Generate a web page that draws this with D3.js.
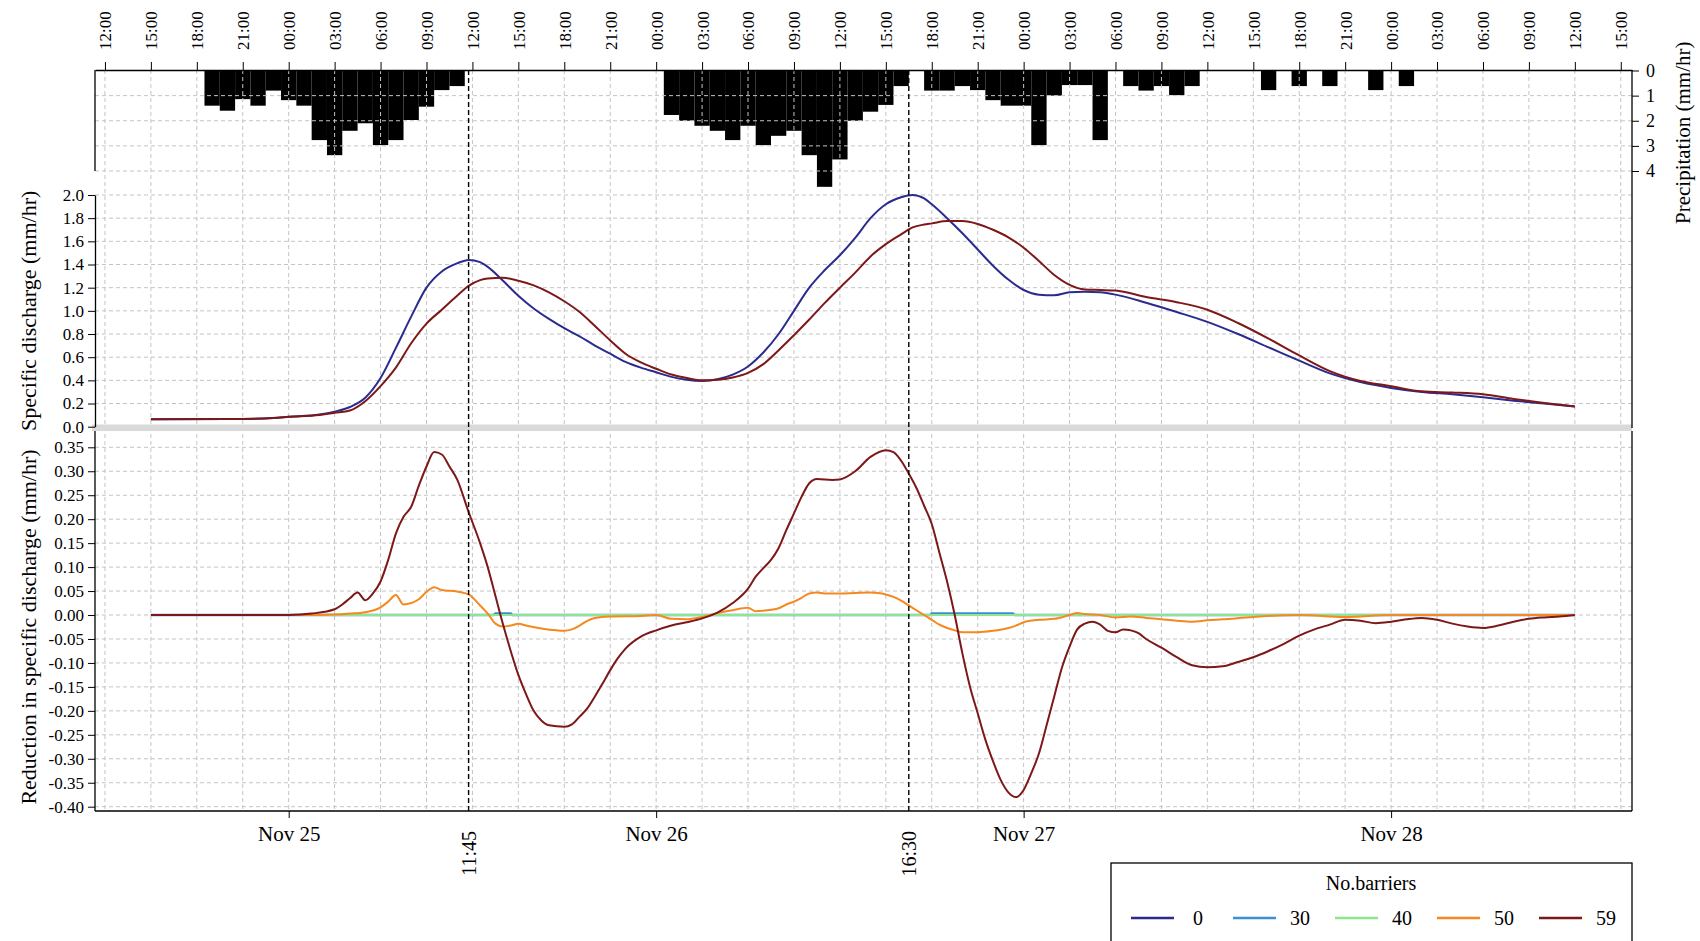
<!DOCTYPE html>
<html><head><meta charset="utf-8">
<script src="https://cdn.jsdelivr.net/npm/d3@7"></script>
<style>
body{margin:0;background:#fff;}
svg text{font-family:"Liberation Serif","Times New Roman",serif;fill:#000;}
</style></head><body>
<svg id="chart" width="1700" height="941"></svg>
<script>
// ---------------- DATA (times are "day hh:mm" in November) ----------------
const precipTimes = ["24 19:00","24 20:00","24 21:00","24 22:00","24 23:00",
  "25 00:00","25 01:00","25 02:00","25 03:00","25 04:00","25 05:00","25 06:00","25 07:00","25 08:00","25 09:00","25 10:00","25 11:00",
  "26 01:00","26 02:00","26 03:00","26 04:00","26 05:00","26 06:00","26 07:00","26 08:00","26 09:00","26 10:00","26 11:00","26 12:00","26 13:00","26 14:00","26 15:00","26 16:00",
  "26 18:00","26 19:00","26 20:00","26 21:00","26 22:00","26 23:00",
  "27 00:00","27 01:00","27 02:00","27 03:00","27 04:00","27 05:00","27 07:00","27 08:00","27 09:00","27 10:00","27 11:00",
  "27 16:00","27 18:00","27 20:00","27 23:00","28 01:00"];
const precipValues = [1.40,1.60,1.14,1.40,0.80,
  1.18,1.40,2.77,3.37,2.40,2.10,2.97,2.77,1.97,1.44,0.78,0.62,
  1.77,2.00,2.20,2.40,2.77,2.20,2.97,2.60,2.40,3.37,4.63,3.54,2.00,1.64,1.37,0.62,
  0.80,0.80,0.62,0.78,1.18,1.40,
  1.40,2.97,1.00,0.58,0.58,2.77,0.62,0.80,0.62,0.98,0.62,
  0.78,0.62,0.62,0.78,0.62];

const dischargeTimes = ["24 15:00","24 20:00","24 23:00","25 00:00","25 02:00","25 03:00","25 04:00","25 05:00","25 06:00","25 07:00",
  "25 08:00","25 09:00","25 10:00","25 11:00","25 11:45","25 12:30","25 13:00","25 14:00","25 15:00","25 16:00",
  "25 17:00","25 18:00","25 19:00","25 20:00","25 21:00","25 22:00","25 23:00","26 00:00","26 01:00","26 02:00",
  "26 03:00","26 04:00","26 05:00","26 06:00","26 07:00","26 08:00","26 09:00","26 10:00","26 11:00","26 12:00",
  "26 13:00","26 14:00","26 15:00","26 16:00","26 16:45","26 17:30","26 18:00","26 19:00","26 20:00","26 21:00",
  "26 22:00","26 23:00","27 00:00","27 01:00","27 02:00","27 03:00","27 04:00","27 05:00","27 06:00","27 08:00",
  "27 10:00","27 12:00","27 14:00","27 16:00","27 18:00","27 20:00","27 22:00","28 00:00","28 02:00","28 04:00",
  "28 06:00","28 08:00","28 10:00","28 12:00"];
const discharge0 = [0.065,0.066,0.075,0.085,0.105,0.13,0.17,0.25,0.42,0.68,
  0.95,1.20,1.34,1.41,1.44,1.42,1.38,1.26,1.13,1.02,
  0.93,0.85,0.78,0.70,0.63,0.56,0.51,0.47,0.43,0.405,
  0.395,0.41,0.45,0.52,0.64,0.80,1.00,1.20,1.35,1.48,
  1.63,1.80,1.92,1.98,2.00,1.97,1.92,1.80,1.67,1.53,
  1.39,1.27,1.18,1.14,1.135,1.16,1.165,1.16,1.14,1.07,
  0.99,0.905,0.80,0.685,0.57,0.46,0.385,0.335,0.30,0.28,
  0.255,0.225,0.20,0.175];
const discharge59 = [0.065,0.066,0.075,0.085,0.102,0.12,0.14,0.22,0.35,0.51,
  0.72,0.89,1.01,1.13,1.215,1.265,1.28,1.285,1.26,1.22,
  1.16,1.083,0.99,0.87,0.745,0.63,0.555,0.50,0.45,0.42,
  0.40,0.405,0.425,0.465,0.54,0.66,0.79,0.925,1.067,1.20,
  1.33,1.47,1.576,1.66,1.72,1.745,1.755,1.775,1.775,1.75,
  1.70,1.635,1.545,1.43,1.31,1.225,1.185,1.18,1.175,1.12,
  1.075,1.01,0.895,0.76,0.615,0.48,0.395,0.35,0.305,0.295,
  0.28,0.24,0.205,0.175];

const reduction59Times = ["24 15:00","25 00:00","25 01:30","25 03:00","25 03:30","25 04:00","25 04:30","25 05:00","25 05:30","25 06:00",
  "25 06:30","25 07:00","25 07:30","25 08:00","25 08:30","25 09:00","25 09:30","25 10:00","25 10:30","25 11:00",
  "25 11:45","25 12:30","25 13:00","25 13:30","25 14:00","25 14:30","25 15:00","25 15:30","25 16:00","25 16:30",
  "25 17:00","25 18:00","25 18:30","25 19:00","25 19:30","25 20:00","25 20:30","25 21:00","25 21:30","25 22:00",
  "25 23:00","26 00:00","26 01:00","26 02:00","26 03:00","26 04:00","26 05:00","26 06:00","26 06:30","26 07:00",
  "26 07:30","26 08:00","26 08:30","26 09:00","26 09:30","26 10:00","26 10:30","26 11:30","26 12:00","26 13:00",
  "26 14:00","26 15:00","26 15:30","26 16:00","26 16:30","26 17:00","26 17:30","26 18:00","26 18:30","26 19:00",
  "26 19:30","26 20:00","26 20:30","26 21:00","26 21:30","26 22:00","26 22:30","26 23:00","26 23:30","27 00:00",
  "27 00:30","27 01:00","27 01:30","27 02:00","27 02:30","27 03:00","27 03:30","27 04:00","27 04:30","27 05:00",
  "27 05:30","27 06:00","27 06:30","27 07:00","27 07:30","27 08:00","27 09:00","27 10:00","27 11:00","27 12:00",
  "27 13:00","27 14:00","27 15:00","27 16:00","27 17:00","27 18:00","27 19:00","27 20:00","27 21:00","27 22:00",
  "27 23:00","28 00:00","28 01:00","28 02:00","28 03:00","28 04:00","28 05:00","28 06:00","28 07:00","28 08:00",
  "28 09:00","28 10:00","28 11:00","28 12:00"];
const reduction59 = [0,0,0.003,0.012,0.022,0.035,0.047,0.031,0.045,0.070,
  0.115,0.170,0.205,0.226,0.270,0.310,0.340,0.335,0.310,0.283,
  0.215,0.150,0.100,0.040,-0.020,-0.075,-0.125,-0.165,-0.200,-0.220,
  -0.230,-0.233,-0.228,-0.212,-0.195,-0.170,-0.143,-0.115,-0.090,-0.070,
  -0.045,-0.032,-0.022,-0.015,-0.007,0.005,0.025,0.055,0.080,0.098,
  0.115,0.140,0.177,0.212,0.247,0.275,0.284,0.282,0.283,0.300,
  0.330,0.344,0.340,0.322,0.295,0.265,0.228,0.190,0.130,0.070,
  0.000,-0.080,-0.150,-0.205,-0.260,-0.305,-0.344,-0.370,-0.380,-0.365,
  -0.330,-0.289,-0.230,-0.170,-0.110,-0.066,-0.030,-0.018,-0.014,-0.020,
  -0.033,-0.036,-0.030,-0.032,-0.038,-0.050,-0.068,-0.088,-0.105,-0.109,
  -0.107,-0.098,-0.088,-0.075,-0.060,-0.043,-0.030,-0.020,-0.010,-0.012,
  -0.017,-0.014,-0.009,-0.006,-0.010,-0.018,-0.024,-0.027,-0.022,-0.014,
  -0.008,-0.005,-0.003,0.000];

const reduction50Times = ["24 15:00","25 02:00","25 04:00","25 05:00","25 06:00","25 06:30","25 07:00","25 07:30","25 08:00","25 08:30",
  "25 09:00","25 09:30","25 10:00","25 11:00","25 11:45","25 12:30","25 13:00","25 13:30","25 14:00","25 14:30",
  "25 15:00","25 15:30","25 16:30","25 17:30","25 18:00","25 18:30","25 19:00","25 19:30","25 20:00","25 21:00",
  "25 23:00","26 00:00","26 01:00","26 02:00","26 03:00","26 04:00","26 05:00","26 06:00","26 06:30","26 07:00",
  "26 08:00","26 08:30","26 09:00","26 09:30","26 10:00","26 10:30","26 11:00","26 12:00","26 13:00","26 14:00",
  "26 14:30","26 15:00","26 15:30","26 16:00","26 16:30","26 17:00","26 17:30","26 18:00","26 18:30","26 19:00",
  "26 19:30","26 20:00","26 21:00","26 22:00","26 23:00","26 23:30","27 00:00","27 01:00","27 02:00","27 03:00",
  "27 03:30","27 04:00","27 05:00","27 06:00","27 07:00","27 08:00","27 09:00","27 10:00","27 11:00","27 12:00",
  "27 13:00","27 15:00","27 18:00","27 21:00","28 00:00","28 12:00"];
const reduction50 = [0,0,0.003,0.006,0.016,0.028,0.042,0.022,0.025,0.033,
  0.048,0.058,0.052,0.049,0.043,0.020,0.003,-0.018,-0.024,-0.022,
  -0.018,-0.022,-0.028,-0.032,-0.033,-0.030,-0.022,-0.012,-0.006,-0.003,
  -0.002,0.000,-0.008,-0.009,-0.004,0.004,0.010,0.015,0.008,0.009,
  0.014,0.022,0.028,0.036,0.045,0.047,0.045,0.045,0.046,0.047,
  0.046,0.043,0.038,0.030,0.020,0.010,0.000,-0.010,-0.020,-0.027,
  -0.032,-0.036,-0.036,-0.033,-0.027,-0.022,-0.015,-0.010,-0.008,0.000,
  0.004,0.002,0.000,-0.005,-0.003,-0.006,-0.009,-0.012,-0.014,-0.011,
  -0.009,-0.004,0.000,-0.004,0.000,0.000];

const reduction40Times = ["24 15:00","28 12:00"];
const reduction40 = [0, 0];
const reduction30Times = ["24 15:00","25 13:24","25 13:30","25 14:30","25 14:36","26 17:54","26 18:00","26 23:18","26 23:24","28 12:00"];
const reduction30 = [0,0,0.003,0.003,0,0,0.003,0.003,0,0];

const barrierLevels = ["0","30","40","50","59"];
const barrierColors = ["#2b2b8f","#3d8fd1","#8ee68e","#f5891f","#7d1818"];
const markerTimes = ["25 11:45","26 16:30"];
const markerLabels = ["11:45","16:30"];
const dayTickTimes = ["25 00:00","26 00:00","27 00:00","28 00:00"];
const dayTickLabels = ["Nov 25","Nov 26","Nov 27","Nov 28"];
const precipTicks = [0,1,2,3,4];
const dischargeTicks = [0,0.2,0.4,0.6,0.8,1.0,1.2,1.4,1.6,1.8,2.0];
const reductionTicks = [0.35,0.30,0.25,0.20,0.15,0.10,0.05,0,-0.05,-0.10,-0.15,-0.20,-0.25,-0.30,-0.35,-0.40];

// ---------------- CHART ----------------
const parse = d3.timeParse("%Y-%m-%d %H:%M");
const T = s => parse("2015-11-" + s);
const svg = d3.select("#chart");

const L = 95, R = 1632;
const x = d3.scaleTime().domain([T("24 11:21"), T("28 15:44")]).range([L, R]);
const yP = d3.scaleLinear().domain([0, 4]).range([70.5, 171]);
const yQ = d3.scaleLinear().domain([0, 2]).range([426.7, 195]);
const yR = d3.scaleLinear().domain([-0.40, 0.35]).range([806.7, 447.3]);
const TOP = 70, BOT = 811;

const topTicks = d3.timeHour.range(T("24 12:00"), T("28 15:01"), 3);
const gridCol = "#c4c4c4";

// precipitation bars
svg.append("g").selectAll("rect").data(precipTimes.map((t,i)=>({t:T(t), v:precipValues[i]})))
  .join("rect")
  .attr("x", d => x(d3.timeMinute.offset(d.t, -30)))
  .attr("width", d => x(d3.timeMinute.offset(d.t, 30)) - x(d3.timeMinute.offset(d.t, -30)))
  .attr("y", TOP).attr("height", d => yP(d.v) - TOP)
  .attr("fill", "#000");

// grids
const grid = svg.append("g").attr("stroke", gridCol).attr("stroke-width", 1).attr("stroke-dasharray", "4,3").attr("fill","none");
grid.selectAll(".vg").data(topTicks).join("line")
  .attr("x1", d => x(d)).attr("x2", d => x(d)).attr("y1", TOP).attr("y2", BOT);
grid.selectAll(".hp").data(precipTicks.slice(1)).join("line")
  .attr("x1", L).attr("x2", R).attr("y1", d => yP(d)).attr("y2", d => yP(d));
grid.selectAll(".hq").data(dischargeTicks).join("line")
  .attr("x1", L).attr("x2", R).attr("y1", d => yQ(d)).attr("y2", d => yQ(d));
grid.selectAll(".hr").data(reductionTicks).join("line")
  .attr("x1", L).attr("x2", R).attr("y1", d => yR(d)).attr("y2", d => yR(d));

// separator band
svg.append("rect").attr("x", 92).attr("y", 424.5).attr("width", R - 92).attr("height", 6.5).attr("fill", "#d9d9d9");

// lines
const mkLine = yS => d3.line().x(d => x(d.t)).y(d => yS(d.v)).curve(d3.curveMonotoneX);
const series = (times, vals) => times.map((t,i)=>({t:T(t), v:vals[i]}));
const gL = svg.append("g").attr("fill", "none").attr("stroke-width", 2).attr("stroke-linejoin","round");
gL.append("path").attr("d", mkLine(yQ)(series(dischargeTimes, discharge0))).attr("stroke", barrierColors[0]);
gL.append("path").attr("d", mkLine(yQ)(series(dischargeTimes, discharge59))).attr("stroke", barrierColors[4]);
gL.append("path").attr("d", mkLine(yR)(series(reduction30Times, reduction30))).attr("stroke", barrierColors[1]).attr("stroke-width", 2.5);
gL.append("path").attr("d", mkLine(yR)(series(reduction40Times, reduction40))).attr("stroke", barrierColors[2]);
gL.append("path").attr("d", mkLine(yR)(series(reduction50Times, reduction50))).attr("stroke", barrierColors[3]);
gL.append("path").attr("d", mkLine(yR)(series(reduction59Times, reduction59))).attr("stroke", barrierColors[4]);

// marker dashed lines
svg.append("g").selectAll("line").data(markerTimes).join("line")
  .attr("x1", d => x(T(d))).attr("x2", d => x(T(d))).attr("y1", TOP).attr("y2", BOT)
  .attr("stroke", "#000").attr("stroke-width", 1.4).attr("stroke-dasharray", "5,3");

// frame lines
const fr = svg.append("g").attr("stroke", "#000").attr("stroke-width", 1.3);
fr.append("line").attr("x1", L).attr("x2", L).attr("y1", TOP).attr("y2", yP(4));
fr.append("line").attr("x1", R).attr("x2", R).attr("y1", TOP).attr("y2", 428);
fr.append("line").attr("x1", L).attr("x2", L).attr("y1", 431).attr("y2", BOT);
fr.append("line").attr("x1", R).attr("x2", R).attr("y1", 431).attr("y2", BOT);
fr.append("line").attr("x1", L).attr("x2", R).attr("y1", BOT).attr("y2", BOT);

// top axis
const aTop = svg.append("g").attr("transform", `translate(0,${TOP})`)
  .call(d3.axisTop(x).tickValues(topTicks).tickFormat(d3.timeFormat("%H:%M")).tickSizeInner(8).tickSizeOuter(0));
aTop.select(".domain").attr("stroke-width", 1.5);
aTop.selectAll("text").attr("font-size", 17).attr("font-family", null)
  .attr("transform", "rotate(-90)").attr("text-anchor", "start")
  .attr("x", 20).attr("y", 0).attr("dy", "0.35em");

// right precip axis
const aP = svg.append("g").attr("transform", `translate(${R},0)`)
  .call(d3.axisRight(yP).tickValues(precipTicks).tickFormat(d3.format("d")).tickSizeInner(7).tickSizeOuter(0));
aP.select(".domain").remove();
aP.selectAll("text").attr("font-size", 18).attr("font-family", null).attr("x", 14);

// left discharge axis
const aQ = svg.append("g").attr("transform", `translate(${L},0)`)
  .call(d3.axisLeft(yQ).tickValues(dischargeTicks).tickFormat(d => d.toFixed(1)).tickSizeInner(7).tickSizeOuter(0));
aQ.select(".domain").attr("stroke-width", 1.3);
aQ.selectAll("text").attr("font-size", 17).attr("font-family", null).attr("x", -11);

// left reduction axis
const aR = svg.append("g").attr("transform", `translate(${L},0)`)
  .call(d3.axisLeft(yR).tickValues(reductionTicks).tickFormat(d => d.toFixed(2)).tickSizeInner(7).tickSizeOuter(0));
aR.select(".domain").remove();
aR.selectAll("text").attr("font-size", 17).attr("font-family", null).attr("x", -11);

// bottom axis (day ticks)
const aB = svg.append("g").attr("transform", `translate(0,${BOT})`)
  .call(d3.axisBottom(x).tickValues(dayTickTimes.map(T)).tickFormat((d,i) => dayTickLabels[i]).tickSizeInner(7).tickSizeOuter(0));
aB.select(".domain").remove();
aB.selectAll("text").attr("font-size", 21).attr("font-family", null).attr("y", 15);

// marker labels
svg.append("g").selectAll("text").data(markerTimes).join("text")
  .attr("transform", d => `translate(${x(T(d))},831) rotate(-90)`)
  .attr("text-anchor", "end").attr("dy", "0.35em").attr("font-size", 20)
  .text((d,i) => markerLabels[i]);

// axis titles
svg.append("text").attr("transform", `translate(28,${yQ(1)}) rotate(-90)`).attr("text-anchor","middle").attr("dy","0.35em")
  .attr("font-size", 22).text("Specific discharge (mm/hr)");
svg.append("text").attr("transform", `translate(28,${(yR(0.35)+yR(-0.40))/2}) rotate(-90)`).attr("text-anchor","middle").attr("dy","0.35em")
  .attr("font-size", 22).text("Reduction in specific discharge (mm/hr)");
svg.append("text").attr("transform", `translate(1683,${(yP(0)+yP(4))/2 + 12}) rotate(-90)`).attr("text-anchor","middle").attr("dy","0.35em")
  .attr("font-size", 21).text("Precipitation (mm/hr)");

// legend
const lg = svg.append("g");
lg.append("rect").attr("x", 1111).attr("y", 863).attr("width", 521).attr("height", 110)
  .attr("fill", "#fff").attr("stroke", "#000").attr("stroke-width", 1.3);
lg.append("text").attr("x", 1371).attr("y", 890).attr("text-anchor","middle").attr("font-size", 20).text("No.barriers");
const items = lg.selectAll(".it").data(barrierLevels).join("g").attr("transform", (d,i) => `translate(${1131 + i*102},918)`);
items.append("line").attr("x1", 0).attr("x2", 43).attr("stroke", (d,i) => barrierColors[i]).attr("stroke-width", 2.5);
items.append("text").attr("x", 67).attr("dy", "0.35em").attr("text-anchor","middle").attr("font-size", 20).text(d => d);
</script>
</body></html>
